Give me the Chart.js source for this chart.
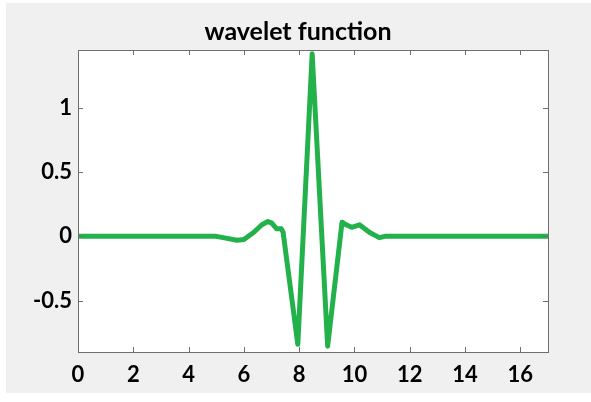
<!DOCTYPE html>
<html>
<head>
<meta charset="utf-8">
<script src="https://cdn.jsdelivr.net/npm/chart.js@4.4.1/dist/chart.umd.min.js"></script>
<style>
  html, body { margin: 0; padding: 0; background: #ffffff; }
  #wrap { width: 591px; height: 402px; }
</style>
</head>
<body>
<div id="wrap"><canvas id="waveletChart" width="591" height="402"></canvas></div>
<script>
// wavelet function samples
const xValues = [0, 5.0, 5.25, 5.75, 6.0, 6.35, 6.65, 6.87, 7.0, 7.18, 7.35, 7.42, 7.95, 8.47, 9.03, 9.55, 9.70, 9.90, 10.18, 10.55, 10.9, 11.1, 17];
const psiValues = [0, 0, -0.01, -0.03, -0.025, 0.03, 0.09, 0.115, 0.105, 0.06, 0.06, 0.03, -0.84, 1.42, -0.855, 0.11, 0.09, 0.07, 0.09, 0.03, -0.01, 0, 0];
const xTicks = [0, 2, 4, 6, 8, 10, 12, 14, 16];
const yTicks = [-0.5, 0, 0.5, 1];
const titleText = 'wavelet function';

const points = xValues.map((x, i) => ({ x: x, y: psiValues[i] }));

// gray figure background, title, axes box with inward ticks (matlab look)
const figureStyle = {
  id: 'figureStyle',
  beforeDraw(chart) {
    const c = chart.ctx;
    c.save();
    c.fillStyle = '#f0f0f0';
    c.fillRect(6, 3, chart.width - 6, 390);
    const a = chart.chartArea;
    c.fillStyle = '#ffffff';
    c.fillRect(a.left, a.top, a.right - a.left, a.bottom - a.top);
    c.fillStyle = '#000000';
    c.font = 'bold 25px Lato';
    c.textAlign = 'center';
    c.textBaseline = 'alphabetic';
    c.fillText(titleText, 298, 40);
    c.restore();
  },
  afterDatasetsDraw(chart) {
    const c = chart.ctx;
    const a = chart.chartArea;
    const len = 5;
    c.save();
    c.strokeStyle = '#6e6e6e';
    c.lineWidth = 1;
    c.beginPath();
    chart.scales.x.ticks.forEach(t => {
      const px = Math.round(chart.scales.x.getPixelForValue(t.value)) + 0.5;
      c.moveTo(px, a.bottom); c.lineTo(px, a.bottom - len);
      c.moveTo(px, a.top); c.lineTo(px, a.top + len);
    });
    chart.scales.y.ticks.forEach(t => {
      const py = Math.round(chart.scales.y.getPixelForValue(t.value)) + 0.5;
      c.moveTo(a.left, py); c.lineTo(a.left + len, py);
      c.moveTo(a.right, py); c.lineTo(a.right - len, py);
    });
    c.stroke();
    c.strokeRect(Math.round(a.left) + 0.5, Math.round(a.top) + 0.5,
                 Math.round(a.right - a.left), Math.round(a.bottom - a.top));
    c.restore();
  }
};

const ctx = document.getElementById('waveletChart').getContext('2d');
const waveletChart = new Chart(ctx, {
  type: 'line',
  data: {
    datasets: [{
      label: 'psi',
      data: points,
      borderColor: '#23b14c',
      borderWidth: 5,
      pointRadius: 0,
      tension: 0,
      fill: false,
      borderJoinStyle: 'round',
      borderCapStyle: 'round'
    }]
  },
  options: {
    responsive: false,
    animation: false,
    layout: { padding: { left: 0, right: 43, top: 50, bottom: 0 } },
    plugins: {
      legend: { display: false },
      tooltip: { enabled: false },
      title: { display: false }
    },
    scales: {
      x: {
        type: 'linear',
        min: 0,
        max: 17,
        grid: { display: false, drawTicks: false },
        border: { display: false },
        afterBuildTicks: s => { s.ticks = xTicks.map(v => ({ value: v })); },
        afterFit: s => { s.height = 50; },
        ticks: {
          color: '#000000',
          padding: 10,
          maxRotation: 0,
          font: { family: 'Lato', size: 22, weight: 'bold' },
          callback: v => String(v)
        }
      },
      y: {
        type: 'linear',
        min: -0.9,
        max: 1.45,
        grid: { display: false, drawTicks: false },
        border: { display: false },
        afterBuildTicks: s => { s.ticks = yTicks.map(v => ({ value: v })); },
        afterFit: s => { s.width = 78; },
        ticks: {
          color: '#000000',
          padding: 6,
          font: { family: 'Lato', size: 22, weight: 'bold' },
          callback: v => String(v)
        }
      }
    }
  },
  plugins: [figureStyle]
});
</script>
</body>
</html>
